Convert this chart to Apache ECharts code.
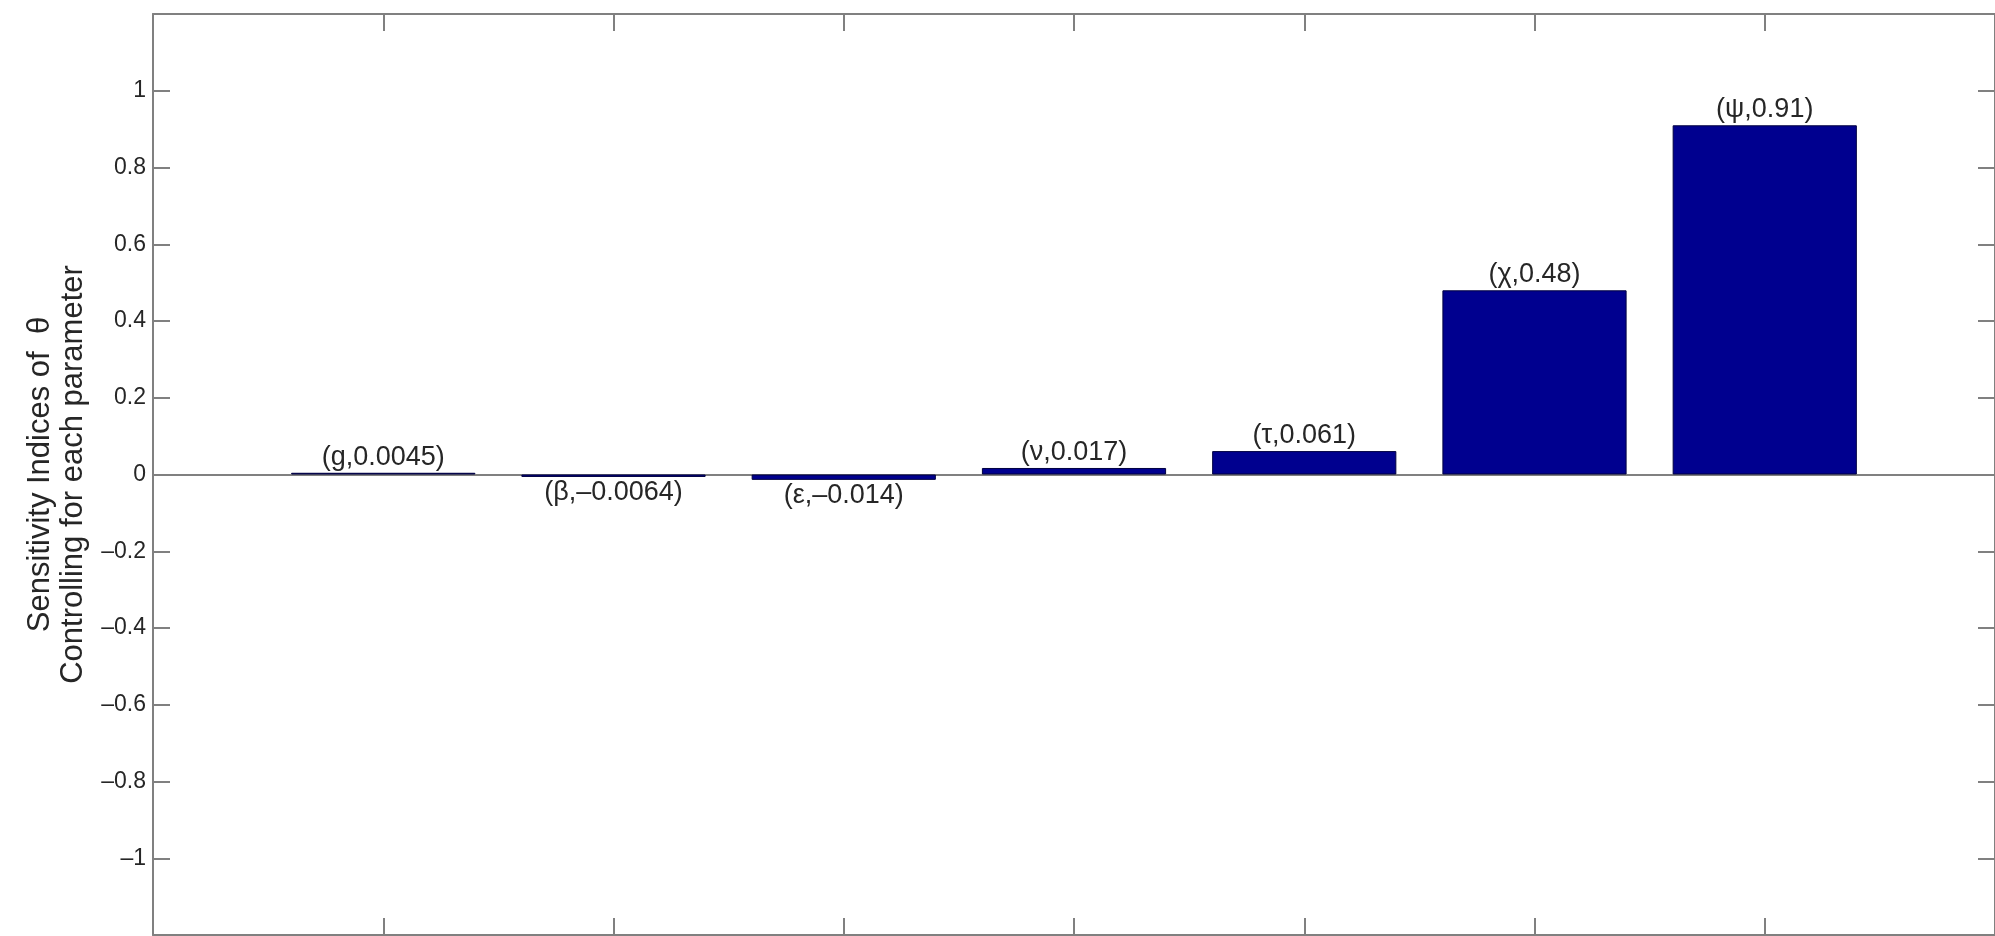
<!DOCTYPE html>
<html>
<head>
<meta charset="utf-8">
<title>Sensitivity Indices of θ</title>
<script src="https://cdn.jsdelivr.net/npm/echarts@6/dist/echarts.min.js"></script>
<style>
  html, body { margin: 0; padding: 0; background: #ffffff; }
  #chart { width: 1995px; height: 936px; }
</style>
</head>
<body>
<div id="chart"></div>
<script>
// Parameters and their sensitivity indices of θ
const parameters = ['g', 'β', 'ε', 'ν', 'τ', 'χ', 'ψ'];
const indices = [0.0045, -0.0064, -0.014, 0.017, 0.061, 0.48, 0.91];

// Y-axis range and tick step
const yMin = -1.2;
const yMax = 1.2;
const yStep = 0.2;

const FONT = "'Liberation Sans', Arial, Helvetica, sans-serif";
const TEXT = '#262626';
const AXIS = '#808080';

const dash = s => s.replace('-', '\u2013');

function yTickLabel(v) {
  if (Math.abs(v) > 1.05) return '';
  const r = Math.round(v * 10) / 10;
  return dash(String(r));
}

const barData = indices.map((v, i) => ({
  value: [i + 1, v],
  label: { position: v >= 0 ? 'top' : 'bottom' }
}));

const boxAxisLine = { show: true, onZero: false, lineStyle: { color: AXIS, width: 2 } };
const innerTick = { show: true, inside: true, length: 17, lineStyle: { color: AXIS, width: 2 } };

const chart = echarts.init(document.getElementById('chart'), null, { renderer: 'canvas' });

chart.setOption({
  animation: false,
  backgroundColor: '#ffffff',
  grid: { left: 153, right: 0, top: 14, bottom: 1, containLabel: false },
  xAxis: [
    {
      type: 'value', position: 'bottom', min: 0, max: parameters.length + 1, interval: 1,
      axisLine: boxAxisLine, axisTick: innerTick,
      axisLabel: { show: false }, splitLine: { show: false }
    },
    {
      type: 'value', position: 'top', min: 0, max: parameters.length + 1, interval: 1,
      axisLine: boxAxisLine, axisTick: innerTick,
      axisLabel: { show: false }, splitLine: { show: false }
    }
  ],
  yAxis: [
    {
      type: 'value', position: 'left', min: yMin, max: yMax, interval: yStep,
      axisLine: boxAxisLine, axisTick: innerTick, splitLine: { show: false },
      axisLabel: {
        show: true, margin: 7, color: TEXT, fontFamily: FONT, fontSize: 23,
        formatter: yTickLabel
      },
      name: 'Sensitivity Indices of  θ\nControlling for each parameter',
      nameLocation: 'middle', nameRotate: 90, nameGap: 62,
      nameTextStyle: { color: TEXT, fontFamily: FONT, fontSize: 31, lineHeight: 33 }
    },
    {
      type: 'value', position: 'right', min: yMin, max: yMax, interval: yStep,
      axisLine: boxAxisLine, axisTick: innerTick, splitLine: { show: false },
      axisLabel: { show: false }
    }
  ],
  series: [
    {
      type: 'bar',
      xAxisIndex: 0, yAxisIndex: 0,
      data: barData,
      barWidth: '80%',
      itemStyle: { color: '#00008f', borderColor: '#000040', borderWidth: 1 },
      label: {
        show: true, distance: 2, color: TEXT, fontFamily: FONT, fontSize: 27,
        formatter: p => '(' + parameters[p.dataIndex] + ',' + dash(String(indices[p.dataIndex])) + ')'
      },
      markLine: {
        silent: true, symbol: 'none', label: { show: false },
        lineStyle: { color: AXIS, width: 2, type: 'solid' },
        data: [{ yAxis: 0 }],
        z: 1
      },
      z: 2
    }
  ]
});
</script>
</body>
</html>
